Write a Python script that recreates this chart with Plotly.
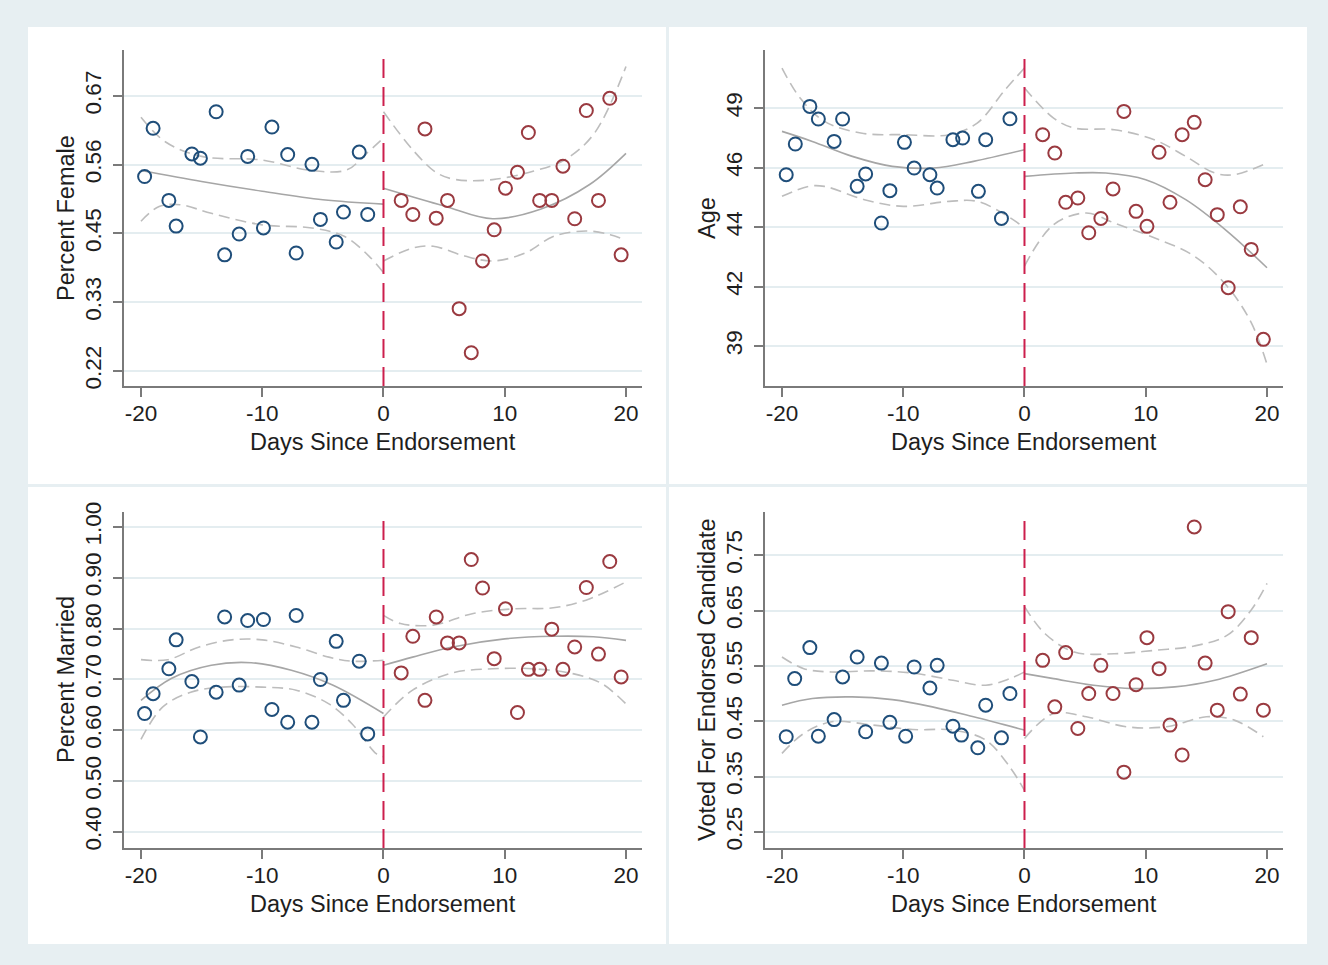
import plotly.graph_objects as go

# ---------------- DATA ----------------
# Panel 1: Percent Female (axis units: evenly spaced ticks)
fem_pre_x = [-19.7, -19.0, -17.7, -17.1, -15.8, -15.1, -13.8, -13.1, -11.9, -11.2,
             -9.9, -9.2, -7.9, -7.2, -5.9, -5.2, -3.9, -3.3, -2.0, -1.3]
fem_pre_y = [0.538, 0.617, 0.499, 0.457, 0.575, 0.568, 0.644, 0.410, 0.444, 0.571,
             0.454, 0.619, 0.574, 0.413, 0.558, 0.468, 0.431, 0.480, 0.578, 0.476]
fem_post_x = [1.46, 2.42, 3.42, 4.35, 5.28, 6.24, 7.24, 8.17, 9.13, 10.06,
              11.05, 11.95, 12.88, 13.88, 14.8, 15.77, 16.73, 17.73, 18.66, 19.6]
fem_post_y = [0.499, 0.476, 0.616, 0.470, 0.499, 0.322, 0.250, 0.400, 0.451, 0.519,
              0.545, 0.610, 0.499, 0.499, 0.555, 0.469, 0.646, 0.499, 0.666, 0.410]
fem_fit_pre_x = [-20, -15, -10, -5, 0]
fem_fit_pre_y = [0.548, 0.530, 0.514, 0.500, 0.493]
fem_hi_pre_x = [-20, -18, -15, -10, -6, -3, -1.5, 0]
fem_hi_pre_y = [0.635, 0.595, 0.571, 0.565, 0.548, 0.549, 0.574, 0.601]
fem_lo_pre_x = [-20, -18.5, -16.8, -14.2, -10, -5.9, -3.2, -1.2, 0]
fem_lo_pre_y = [0.465, 0.489, 0.492, 0.478, 0.459, 0.454, 0.440, 0.408, 0.381]
fem_fit_post_x = [0, 5, 9, 13, 17, 20]
fem_fit_post_y = [0.519, 0.490, 0.469, 0.485, 0.525, 0.576]
fem_hi_post_x = [0, 2.4, 4.4, 6, 9, 12.4, 15, 17.4, 20]
fem_hi_post_y = [0.644, 0.582, 0.544, 0.533, 0.533, 0.547, 0.566, 0.609, 0.718]
fem_lo_post_x = [0, 2.4, 4.1, 6.7, 9, 11.7, 14, 16.7, 18.7, 19.85]
fem_lo_post_y = [0.400, 0.421, 0.424, 0.408, 0.400, 0.413, 0.440, 0.449, 0.443, 0.435]
fem_tickvals = [0.22, 0.3325, 0.445, 0.5575, 0.67]
fem_ticktext = ["0.22", "0.33", "0.45", "0.56", "0.67"]

# Panel 2: Age
age_pre_x = [-19.65, -18.9, -17.7, -17.0, -15.7, -15.0, -13.8, -13.1, -11.8, -11.1,
             -9.9, -9.1, -7.8, -7.2, -5.9, -5.1, -3.8, -3.2, -1.9, -1.2]
age_pre_y = [46.20, 47.49, 49.07, 48.54, 47.60, 48.54, 45.71, 46.23, 44.17, 45.53,
             47.56, 46.48, 46.20, 45.64, 47.67, 47.74, 45.50, 47.67, 44.36, 48.55]
age_post_x = [1.5, 2.5, 3.4, 4.4, 5.3, 6.3, 7.3, 8.2, 9.2, 10.1,
              11.1, 12.0, 13.0, 14.0, 14.9, 15.9, 16.8, 17.8, 18.7, 19.7]
age_post_y = [47.88, 47.11, 45.04, 45.22, 43.76, 44.36, 45.60, 48.86, 44.66, 44.03,
              47.14, 45.04, 47.88, 48.40, 45.99, 44.52, 41.45, 44.85, 43.06, 39.28]
age_fit_pre_x = [-20, -17.5, -14.2, -10.9, -7.5, -4.2, 0]
age_fit_pre_y = [48.02, 47.60, 46.97, 46.55, 46.48, 46.76, 47.25]
age_hi_pre_x = [-20, -18.5, -16.5, -13.5, -10, -6.2, -3.9, -1.6, 0]
age_hi_pre_y = [50.68, 49.42, 48.44, 47.95, 47.88, 47.88, 48.37, 49.77, 50.68]
age_lo_pre_x = [-20, -17.8, -16.5, -13.2, -10, -6.2, -3.9, -1.6, 0]
age_lo_pre_y = [45.29, 45.71, 45.71, 45.15, 44.87, 45.08, 45.08, 44.52, 43.97]
age_fit_post_x = [0, 4.1, 6.7, 10, 13.3, 16.7, 20]
age_fit_post_y = [46.13, 46.27, 46.27, 45.99, 45.15, 43.83, 42.29]
age_hi_post_x = [0, 2.4, 4.1, 7.4, 10.7, 13.3, 15.7, 17.3, 20]
age_hi_post_y = [49.84, 48.58, 48.16, 48.09, 47.67, 46.97, 46.27, 46.20, 46.69]
age_lo_post_x = [0, 2.4, 5.1, 7.4, 10.7, 14, 16.7, 18.7, 20]
age_lo_post_y = [42.36, 44.10, 44.59, 44.17, 43.55, 42.78, 41.52, 39.98, 38.23]
age_tickvals = [39, 41.5, 44, 46.5, 49]
age_ticktext = ["39", "42", "44", "46", "49"]

# Panel 3: Percent Married
mar_pre_x = fem_pre_x
mar_pre_y = [0.633, 0.672, 0.721, 0.778, 0.696, 0.587, 0.675, 0.823, 0.689, 0.816,
             0.818, 0.641, 0.616, 0.826, 0.616, 0.700, 0.775, 0.659, 0.736, 0.593]
mar_post_x = fem_post_x
mar_post_y = [0.713, 0.785, 0.659, 0.823, 0.772, 0.772, 0.936, 0.880, 0.741, 0.839,
              0.635, 0.720, 0.720, 0.799, 0.720, 0.764, 0.881, 0.750, 0.932, 0.705]
mar_fit_pre_x = [-20, -17.5, -14.2, -10.9, -7.6, -4.2, 0]
mar_fit_pre_y = [0.659, 0.702, 0.728, 0.733, 0.718, 0.689, 0.633]
mar_hi_pre_x = [-20, -17.8, -15.2, -12.5, -10, -7.2, -4.5, -2.6, 0]
mar_hi_pre_y = [0.739, 0.739, 0.764, 0.778, 0.778, 0.764, 0.744, 0.736, 0.738]
mar_lo_pre_x = [-20, -18.2, -15.9, -13.3, -10, -7.2, -4.5, -2.6, -0.6, 0]
mar_lo_pre_y = [0.582, 0.646, 0.675, 0.685, 0.685, 0.679, 0.652, 0.613, 0.554, 0.548]
mar_fit_post_x = [0, 2.4, 5.7, 10, 14, 17.3, 20]
mar_fit_post_y = [0.728, 0.744, 0.764, 0.780, 0.785, 0.784, 0.777]
mar_hi_post_x = [0, 1.4, 4.1, 7.4, 10.7, 14, 16.7, 20]
mar_hi_post_y = [0.826, 0.810, 0.807, 0.830, 0.839, 0.841, 0.856, 0.892]
mar_lo_post_x = [0, 2.4, 5.7, 9, 12.4, 15.7, 18, 20]
mar_lo_post_y = [0.626, 0.679, 0.713, 0.721, 0.721, 0.711, 0.692, 0.652]
mar_tickvals = [0.40, 0.50, 0.60, 0.70, 0.80, 0.90, 1.00]
mar_ticktext = ["0.40", "0.50", "0.60", "0.70", "0.80", "0.90", "1.00"]

# Panel 4: Voted For Endorsed Candidate
vot_pre_x = [-19.65, -18.95, -17.7, -17.0, -15.7, -15.0, -13.8, -13.1, -11.8, -11.1,
             -9.8, -9.1, -7.8, -7.2, -5.9, -5.2, -3.85, -3.2, -1.9, -1.2]
vot_pre_y = [0.422, 0.527, 0.583, 0.423, 0.453, 0.530, 0.566, 0.431, 0.555, 0.448,
             0.423, 0.548, 0.510, 0.551, 0.441, 0.425, 0.402, 0.479, 0.420, 0.500]
vot_post_x = age_post_x
vot_post_y = [0.560, 0.476, 0.574, 0.437, 0.500, 0.551, 0.500, 0.358, 0.516, 0.601,
              0.545, 0.443, 0.389, 0.801, 0.555, 0.470, 0.648, 0.499, 0.601, 0.470]
vot_fit_pre_x = [-20, -17.5, -14.2, -10.9, -7.6, -4.2, 0]
vot_fit_pre_y = [0.479, 0.491, 0.494, 0.489, 0.476, 0.458, 0.434]
vot_hi_pre_x = [-20, -18.2, -15.9, -12.5, -9.2, -5.9, -3.2, -1.2, 0]
vot_hi_pre_y = [0.566, 0.545, 0.539, 0.541, 0.537, 0.524, 0.515, 0.527, 0.539]
vot_lo_pre_x = [-20, -18.2, -15.9, -12.5, -9.2, -5.9, -3.2, -1.2, 0]
vot_lo_pre_y = [0.392, 0.428, 0.449, 0.443, 0.435, 0.434, 0.416, 0.367, 0.325]
vot_fit_post_x = [0, 2.4, 5.7, 9, 12.4, 15.7, 20]
vot_fit_post_y = [0.536, 0.527, 0.515, 0.509, 0.512, 0.524, 0.554]
vot_hi_post_x = [0, 1.7, 4.1, 7.4, 10.7, 14, 16.7, 18.7, 20]
vot_hi_post_y = [0.657, 0.608, 0.575, 0.572, 0.578, 0.586, 0.605, 0.651, 0.699]
vot_lo_post_x = [0, 2.4, 5.1, 8.4, 11.7, 15, 17.3, 19.7]
vot_lo_post_y = [0.419, 0.464, 0.458, 0.440, 0.440, 0.458, 0.452, 0.422]
vot_tickvals = [0.25, 0.35, 0.45, 0.55, 0.65, 0.75]
vot_ticktext = ["0.25", "0.35", "0.45", "0.55", "0.65", "0.75"]

x_tickvals = [-20, -10, 0, 10, 20]
x_ticktext = ["-20", "-10", "0", "10", "20"]
x_title = "Days Since Endorsement"

# ---------------- STYLE ----------------
W, H = 1328, 965
BG = "#e7eff2"
BLUE = "#1f4e7a"
RED = "#9a3a40"
FIT = "#a6a6a6"
CI = "#bdbdbd"
VLINE = "#cc1f4d"
AXIS = "#7a7a7a"
GRID = "#e4edf0"
FONT = "Liberation Sans, Arial, sans-serif"
TXT = "#1e1e1e"
TICK_SIZE = 22.5
TITLE_SIZE = 23.5


def px(x):
    return x / W


def py(y):
    return 1 - y / H


panels = [
    dict(name="Percent Female", pre=(fem_pre_x, fem_pre_y), post=(fem_post_x, fem_post_y),
         fits=[(fem_fit_pre_x, fem_fit_pre_y, "solid"), (fem_hi_pre_x, fem_hi_pre_y, "dash"),
               (fem_lo_pre_x, fem_lo_pre_y, "dash"), (fem_fit_post_x, fem_fit_post_y, "solid"),
               (fem_hi_post_x, fem_hi_post_y, "dash"), (fem_lo_post_x, fem_lo_post_y, "dash")],
         tv=fem_tickvals, tt=fem_ticktext, yr=[0.1955, 0.745],
         xpx=(124, 642), ypx=(50, 386), titlex=66),
    dict(name="Age", pre=(age_pre_x, age_pre_y), post=(age_post_x, age_post_y),
         fits=[(age_fit_pre_x, age_fit_pre_y, "solid"), (age_hi_pre_x, age_hi_pre_y, "dash"),
               (age_lo_pre_x, age_lo_pre_y, "dash"), (age_fit_post_x, age_fit_post_y, "solid"),
               (age_hi_post_x, age_hi_post_y, "dash"), (age_lo_post_x, age_lo_post_y, "dash")],
         tv=age_tickvals, tt=age_ticktext, yr=[37.32, 51.44],
         xpx=(765, 1283), ypx=(50, 386), titlex=707),
    dict(name="Percent Married", pre=(mar_pre_x, mar_pre_y), post=(mar_post_x, mar_post_y),
         fits=[(mar_fit_pre_x, mar_fit_pre_y, "solid"), (mar_hi_pre_x, mar_hi_pre_y, "dash"),
               (mar_lo_pre_x, mar_lo_pre_y, "dash"), (mar_fit_post_x, mar_fit_post_y, "solid"),
               (mar_hi_post_x, mar_hi_post_y, "dash"), (mar_lo_post_x, mar_lo_post_y, "dash")],
         tv=mar_tickvals, tt=mar_ticktext, yr=[0.3685, 1.0295],
         xpx=(124, 642), ypx=(512, 848), titlex=66),
    dict(name="Voted For Endorsed Candidate", pre=(vot_pre_x, vot_pre_y), post=(vot_post_x, vot_post_y),
         fits=[(vot_fit_pre_x, vot_fit_pre_y, "solid"), (vot_hi_pre_x, vot_hi_pre_y, "dash"),
               (vot_lo_pre_x, vot_lo_pre_y, "dash"), (vot_fit_post_x, vot_fit_post_y, "solid"),
               (vot_hi_post_x, vot_hi_post_y, "dash"), (vot_lo_post_x, vot_lo_post_y, "dash")],
         tv=vot_tickvals, tt=vot_ticktext, yr=[0.221, 0.828],
         xpx=(765, 1283), ypx=(512, 848), titlex=707),
]

fig = go.Figure()
layout = dict(width=W, height=H, margin=dict(l=0, r=0, t=0, b=0, pad=0, autoexpand=False),
              autosize=False, paper_bgcolor=BG, plot_bgcolor="white", showlegend=False,
              font=dict(family=FONT, color=TXT, size=TICK_SIZE))
shapes = []
annotations = []

# white panel backgrounds
panel_boxes = [(28, 666, 27, 484), (669, 1307, 27, 484), (28, 666, 487, 944), (669, 1307, 487, 944)]
for (x0, x1, y0, y1) in panel_boxes:
    shapes.append(dict(type="rect", xref="paper", yref="paper", x0=px(x0), x1=px(x1),
                       y0=py(y1), y1=py(y0), fillcolor="white", line=dict(width=0), layer="below"))

for i, p in enumerate(panels, start=1):
    xa = "x" if i == 1 else f"x{i}"
    ya = "y" if i == 1 else f"y{i}"
    xkey = "xaxis" if i == 1 else f"xaxis{i}"
    ykey = "yaxis" if i == 1 else f"yaxis{i}"
    # fit lines and CIs
    for (fx, fy, dash) in p["fits"]:
        fig.add_trace(go.Scatter(x=fx, y=fy, mode="lines", xaxis=xa, yaxis=ya,
                                 line=dict(color=FIT if dash == "solid" else CI, width=1.6,
                                           dash="solid" if dash == "solid" else "11px,6px",
                                           shape="spline", smoothing=1.0),
                                 hoverinfo="skip"))
    # scatter points
    fig.add_trace(go.Scatter(x=p["pre"][0], y=p["pre"][1], mode="markers", xaxis=xa, yaxis=ya,
                             marker=dict(symbol="circle-open", size=13, color=BLUE,
                                         line=dict(width=2, color=BLUE))))
    fig.add_trace(go.Scatter(x=p["post"][0], y=p["post"][1], mode="markers", xaxis=xa, yaxis=ya,
                             marker=dict(symbol="circle-open", size=13, color=RED,
                                         line=dict(width=2, color=RED))))
    x0p, x1p = p["xpx"]
    y0p, y1p = p["ypx"]
    layout[xkey] = dict(domain=[px(x0p), px(x1p)], anchor=ya, range=[-21.40, 21.32],
                        tickvals=x_tickvals, ticktext=x_ticktext, ticks="outside", ticklen=9,
                        tickwidth=1.5, tickcolor=AXIS, showline=True, linecolor=AXIS, linewidth=2,
                        showgrid=False, zeroline=False, tickfont=dict(size=TICK_SIZE, color=TXT),
                        ticklabelstandoff=-3, automargin=False, fixedrange=True)
    layout[ykey] = dict(domain=[py(y1p), py(y0p)], anchor=xa, range=p["yr"],
                        tickvals=p["tv"], ticktext=p["tt"], ticks="outside", ticklen=9,
                        tickwidth=1.5, tickcolor=AXIS, showline=True, linecolor=AXIS, linewidth=2,
                        showgrid=True, gridcolor=GRID, gridwidth=1.5, zeroline=False,
                        tickangle=-90, tickfont=dict(size=TICK_SIZE, color=TXT),
                        ticklabelstandoff=3, automargin=False, fixedrange=True)
    # vertical dashed line at 0
    shapes.append(dict(type="line", xref=xa, yref=f"{ya} domain", x0=0, x1=0, y0=0, y1=1,
                       line=dict(color=VLINE, width=2, dash="19px,9px"), layer="above"))
    # axis titles
    annotations.append(dict(text=x_title, xref="paper", yref="paper",
                            x=px((x0p + x1p) / 2), y=py(y1p + 56), xanchor="center", yanchor="middle",
                            showarrow=False, font=dict(size=TITLE_SIZE, color=TXT)))
    annotations.append(dict(text=p["name"], xref="paper", yref="paper", textangle=-90,
                            x=px(p["titlex"]), y=py((y0p + y1p) / 2), xanchor="center", yanchor="middle",
                            showarrow=False, font=dict(size=TITLE_SIZE, color=TXT)))

layout["shapes"] = shapes
layout["annotations"] = annotations
fig.update_layout(**layout)
fig.write_html("out.html", config={"displayModeBar": False},
               post_script="document.body.style.margin='0';document.body.style.padding='0';")
